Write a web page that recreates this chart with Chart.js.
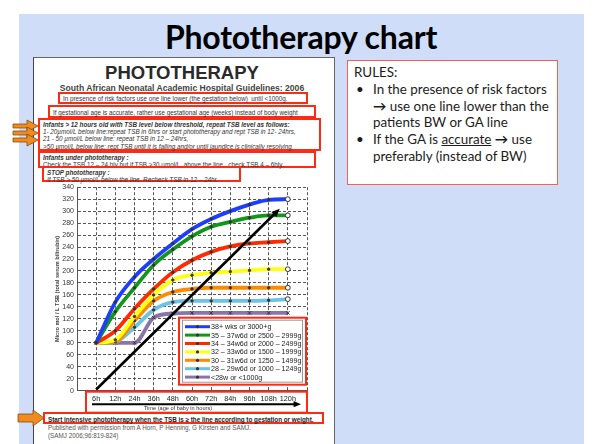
<!DOCTYPE html>
<html>
<head>
<meta charset="utf-8">
<script src="https://cdn.jsdelivr.net/npm/chart.js@4.4.1/dist/chart.umd.min.js"></script>
<style>
	body { margin: 0; width: 596px; height: 444px; position: relative; overflow: hidden; background: #fff; font-family: "Liberation Sans", Arial, sans-serif; }
	.abs { position: absolute; }
	#slide { left: 19px; top: 14px; width: 565px; height: 430px; background: #cfddf8; }
	#titulo { left: 0; top: 17px; width: 602px; text-align: center; font-family: Lato, sans-serif; font-weight: bold; font-size: 32px; letter-spacing: -0.2px; color: #000; }
	#painel { left: 33px; top: 57px; width: 300px; height: 390px; background: #fff; border-left: 1px solid #444; border-top: 1px solid #666; border-right: 1px solid #666; }
	.caixa { border: 2px solid #ff2a12; box-sizing: border-box; background: #fff; color: #333; font-size: 6.3px; line-height: 7.2px; white-space: nowrap; padding: 0 3px; }
	.linha { position: absolute; white-space: nowrap; color: #333; }
	#regras { left: 347px; top: 60px; width: 211px; height: 125px; box-sizing: border-box; border: 1.5px solid #f2604f; background: #fff; font-family: Lato, sans-serif; font-size: 13.4px; line-height: 16.8px; color: #1c1c1c; padding: 3px 0 0 6px; }
	#regras ul { margin: 0; padding-left: 19px; }
	#regras li { list-style: none; position: relative; }
	#regras li::before { content: "•"; position: absolute; left: -17px; }
	#grafico { left: 40px; top: 180px; width: 280px; height: 236px; }
</style>
</head>
<body>
<div id="slide" class="abs"></div>
<div id="titulo" class="abs">Phototherapy chart</div>
<div id="painel" class="abs"></div>

<div class="linha" style="left:0;width:364px;text-align:center;top:62px;font-size:18.5px;font-weight:bold;color:#2a2a2a;">PHOTOTHERAPY</div>
<div class="linha" style="left:0;width:364px;text-align:center;top:83px;font-size:8.6px;font-weight:bold;color:#444;">South African Neonatal Academic Hospital Guidelines: 2006</div>

<div class="abs caixa" style="left:58px;top:92px;width:250px;height:12px;padding-top:1px;">In presence of risk factors use one line lower (the gestation below)&nbsp; until &lt;1000g.</div>
<div class="abs caixa" style="left:48px;top:105px;width:268px;height:13px;padding-top:1.5px;">If gestational age is accurate, rather use gestational age (weeks) instead of body weight</div>
<div class="abs caixa" style="left:38px;top:118px;width:283px;height:33px;padding-top:1px;font-style:italic;">
	<b>Infants &gt; 12 hours old with TSB level below threshold, repeat TSB level as follows:</b><br>
	1- 20µmol/L below line:repeat TSB in 6hrs or start phototherapy and rept TSB in 12- 24hrs,<br>
	21 - 50 µmol/L below line: repeat TSB in 12 – 24hrs,<br>
	&gt;50 µmol/L below line: rept TSB until it is falling and/or until jaundice is clinically resolving
</div>
<div class="abs caixa" style="left:38px;top:151px;width:278px;height:17px;padding-top:1px;">
	<b><i>Infants under phototherapy :</i></b><br>
	Check the TSB 12 – 24 hly but if TSB &gt;30 µmol/L&nbsp; above the line , check TSB 4 – 6hly.
</div>
<div class="abs caixa" style="left:42px;top:166px;width:199px;height:16px;padding-top:0.5px;font-style:italic;">
	<b>STOP phototherapy :</b><br>
	If TSB &gt; 50 µmol/L below the line. Recheck TSB in 12 – 24hr.
</div>

<div id="grafico" class="abs"><canvas id="tsbChart" width="280" height="236"></canvas></div>

<div class="abs caixa" style="left:43px;top:412px;width:281px;height:12px;padding-top:1.5px;font-weight:bold;color:#222;">Start intensive phototherapy when the TSB is ≥ the line according to gestation or weight.</div>
<div class="linha" style="left:48px;top:424px;font-size:6.3px;color:#555;">Published with permission from A Horn, P Henning, G Kirsten and SAMJ.</div>
<div class="linha" style="left:48px;top:432px;font-size:6.3px;color:#555;">(SAMJ 2006;96:819-824)</div>

<svg class="abs" style="left:0;top:0;" width="60" height="444">
	<g fill="#f08c1e" stroke="#7a3e00" stroke-width="0.7">
		<polygon points="13,124 27,124 27,120 38,126 27,132 27,128 13,128"/>
		<polygon points="13,131 27,131 27,127 38,133 27,139 27,135 13,135"/>
		<polygon points="13,138 27,138 27,134 38,140 27,146 27,142 13,142"/>
		<polygon points="18,414 33,414 33,410 44,418 33,426 33,422 18,422"/>
	</g>
</svg>

<div id="regras" class="abs">
	RULES:
	<ul>
		<li>In the presence of risk factors <b>→</b> use one line lower than the patients BW or GA line</li>
		<li>If the GA is <u>accurate</u> <b>→</b> use preferably (instead of BW)</li>
	</ul>
</div>

<script>
const horas = ['6h', '12h', '24h', '36h', '48h', '60h', '72h', '84h', '96h', '108h', '120h'];
const grupos = [
	'38+ wks or 3000+g',
	'35 – 37w6d or 2500 – 2999g',
	'34 – 34w6d or 2000 – 2499g',
	'32 – 33w6d or 1500 – 1999g',
	'30 – 31w6d or 1250 – 1499g',
	'28 – 29w6d or 1000 – 1249g',
	'<28w or <1000g'
];
const cores = ['#1f3dff', '#12961a', '#ff2a00', '#ffff10', '#ff8a00', '#6cc3e2', '#8a76a6'];

// TSB (micromol/L) em cada idade
const tsb38 = [80, 148, 190, 220, 246, 270, 287, 300, 311, 319, 320];
const tsb35 = [80, 132, 172, 210, 236, 258, 274, 282, 289, 293, 293];
const tsb34 = [80, 100, 137, 170, 198, 218, 232, 241, 246, 248, 250];
const tsb32 = [80, 85, 124, 160, 185, 193, 197, 199, 201, 203, 203];
const tsb30 = [80, 82, 117, 150, 165, 170, 172, 172, 172, 172, 172];
const tsb28 = [80, 82, 106, 135, 148, 150, 150, 150, 150, 151, 153];
const tsb27 = [80, 80, 80, 122, 129, 130, 130, 130, 130, 130, 130];
const series = [tsb38, tsb35, tsb34, tsb32, tsb30, tsb28, tsb27];

// seta preta: de (6h, 2) até perto de 108-120h
const setaInicio = [0, 2];
const setaFim = [9.58, 304];

function desenharSeta(ctx, x1, y1, x2, y2, tam) {
	const ang = Math.atan2(y2 - y1, x2 - x1);
	ctx.beginPath();
	ctx.moveTo(x1, y1);
	ctx.lineTo(x2 - Math.cos(ang) * tam * 0.8, y2 - Math.sin(ang) * tam * 0.8);
	ctx.stroke();
	ctx.beginPath();
	ctx.moveTo(x2, y2);
	ctx.lineTo(x2 - tam * Math.cos(ang - 0.4), y2 - tam * Math.sin(ang - 0.4));
	ctx.lineTo(x2 - tam * Math.cos(ang + 0.4), y2 - tam * Math.sin(ang + 0.4));
	ctx.closePath();
	ctx.fill();
}

const extras = {
	id: 'extras',
	afterDatasetsDraw(chart) {
		const ctx = chart.ctx;
		const area = chart.chartArea;
		const sx = chart.scales.x, sy = chart.scales.y;
		ctx.save();

		// seta diagonal
		ctx.strokeStyle = '#000';
		ctx.fillStyle = '#000';
		ctx.lineWidth = 2.6;
		desenharSeta(ctx, sx.getPixelForValue(setaInicio[0]), sy.getPixelForValue(setaInicio[1]),
			sx.getPixelForValue(setaFim[0]), sy.getPixelForValue(setaFim[1]), 9);

		// legenda dentro do gráfico
		const lx = area.right - 129, ly = area.bottom - 74, lw = 129, lh = 69;
		ctx.fillStyle = '#fff';
		ctx.fillRect(lx, ly, lw, lh);
		ctx.strokeStyle = '#999';
		ctx.lineWidth = 1;
		ctx.strokeRect(lx + 4.5, ly + 3.5, lw - 9, lh - 7);
		ctx.strokeStyle = '#ff2a12';
		ctx.lineWidth = 2;
		ctx.strokeRect(lx + 1, ly + 1, lw - 2, lh - 2);
		ctx.font = '7.1px "Liberation Sans", Arial';
		ctx.textBaseline = 'middle';
		chart.data.datasets.forEach((ds, i) => {
			const y = ly + 10 + i * 8.4;
			ctx.strokeStyle = ds.borderColor;
			ctx.lineWidth = 3;
			ctx.beginPath();
			ctx.moveTo(lx + 7, y);
			ctx.lineTo(lx + 32, y);
			ctx.stroke();
			ctx.fillStyle = '#333';
			ctx.beginPath();
			ctx.arc(lx + 19.5, y, 1.6, 0, Math.PI * 2);
			ctx.fill();
			ctx.fillStyle = '#222';
			ctx.fillText(ds.label, lx + 33, y + 0.5);
		});

		// caixa das idades por baixo do gráfico
		ctx.strokeStyle = '#ff2a12';
		ctx.lineWidth = 2;
		ctx.strokeRect(area.left + 9, area.bottom + 1, area.right - area.left - 9, 21);
		ctx.strokeStyle = '#000';
		ctx.fillStyle = '#000';
		ctx.lineWidth = 2;
		desenharSeta(ctx, area.left + 15, area.bottom + 13.5, area.right - 6, area.bottom + 13.5, 8);
		ctx.fillStyle = '#333';
		ctx.font = '5.6px "Liberation Sans", Arial';
		ctx.textAlign = 'center';
		ctx.fillText('Time (age of baby in hours)', area.left + 101, area.bottom + 18);
		ctx.restore();
	}
};

function desenharGrafico() {
	const contexto = document.getElementById('tsbChart').getContext('2d');
	new Chart(contexto, {
		type: 'line',
		data: {
			datasets: series.map((valores, i) => ({
				label: grupos[i],
				data: valores.map((v, j) => ({ x: j, y: v })),
				borderColor: cores[i],
				backgroundColor: cores[i],
				borderWidth: 3.8,
				cubicInterpolationMode: 'monotone',
				pointStyle: i === 6 ? 'crossRot' : 'circle',
				pointRadius: (c) => i === 6 ? 2.5 : (c.dataIndex === 10 ? 2.4 : 1.2),
				pointBackgroundColor: (c) => c.dataIndex === 10 ? '#fff' : '#333',
				pointBorderColor: '#333',
				pointBorderWidth: 1,
				fill: false
			}))
		},
		options: {
			responsive: false,
			animation: false,
			events: [],
			layout: { padding: { top: 6.7, right: 13, left: 0, bottom: 0 } },
			plugins: { legend: { display: false }, tooltip: { enabled: false } },
			scales: {
				x: {
					type: 'linear',
					min: -1,
					max: 11,
					afterFit: (s) => { s.height = 25.3; },
					grid: { color: '#555', drawTicks: false },
					border: { color: '#555', dash: [3, 2] },
					ticks: {
						stepSize: 1,
						autoSkip: false,
						maxRotation: 0,
						padding: 4,
						color: '#222',
						font: { size: 7.3, family: '"Liberation Sans", Arial' },
						callback: (v) => horas[v] || ''
					}
				},
				y: {
					min: 0,
					max: 340,
					afterFit: (s) => { s.width = 37; },
					grid: { color: '#555', drawTicks: false },
					border: { color: '#555', dash: [3, 2] },
					title: {
						display: true,
						text: 'Micro mol / L TSB (total serum bilirubin)',
						color: '#444',
						font: { size: 5.6, weight: 'bold', family: '"Liberation Sans", Arial' },
						padding: { top: 14, bottom: 0 }
					},
					ticks: {
						stepSize: 20,
						padding: 3,
						color: '#333',
						font: { size: 7, family: '"Liberation Sans", Arial' }
					}
				}
			}
		},
		plugins: [extras]
	});
}

window.onload = function () {
	desenharGrafico();
}
</script>
</body>
</html>
